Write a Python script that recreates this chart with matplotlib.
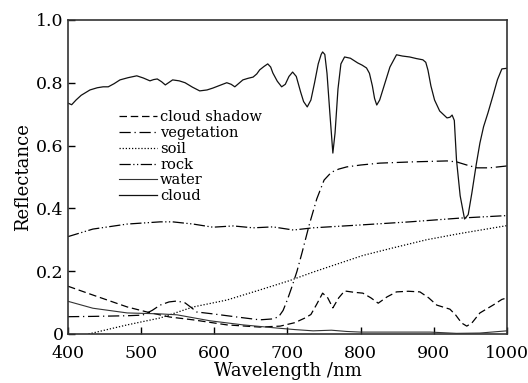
import matplotlib
matplotlib.use('Agg')
import matplotlib.pyplot as plt

# cloud (upper solid curve)
cloud_wl = [400, 405, 411, 418, 430, 440, 448, 455, 463, 471, 482, 494, 503, 512, 517, 522, 528,
            533, 543, 552, 560, 570, 580, 590, 598, 608, 617, 623, 628, 633, 639, 646, 653,
            658, 662, 668, 673, 677, 680, 686, 692, 697, 702, 707, 712, 718, 722, 727, 732,
            737, 742, 746, 748, 751, 754, 758, 762, 765, 769, 773, 778, 786, 796, 802, 808,
            812, 816, 819, 822, 826, 832, 840, 849, 857, 867, 876, 885, 889, 892, 896, 901,
            908, 918, 922, 925, 928, 931, 936, 942, 947, 952, 958, 963, 968, 974, 981,
            987, 993, 1000]
cloud_val = [0.735, 0.73, 0.745, 0.76, 0.777, 0.784, 0.787, 0.787, 0.797, 0.809, 0.816, 0.822, 0.815, 0.806, 0.81, 0.812, 0.803,
             0.793, 0.809, 0.806, 0.80, 0.786, 0.774, 0.777, 0.783, 0.792, 0.80, 0.795, 0.787, 0.797, 0.809, 0.814, 0.818,
             0.828, 0.841, 0.852, 0.86, 0.85, 0.831, 0.805, 0.787, 0.795, 0.82, 0.834, 0.82, 0.77, 0.74, 0.723, 0.745,
             0.80, 0.86, 0.89, 0.898, 0.89, 0.83, 0.70, 0.576, 0.64, 0.78, 0.86, 0.882, 0.878, 0.863, 0.856, 0.847,
             0.83, 0.79, 0.75, 0.729, 0.745, 0.79, 0.85, 0.889, 0.885, 0.882, 0.877, 0.873, 0.865, 0.84, 0.79, 0.745,
             0.71, 0.688, 0.69, 0.697, 0.68, 0.554, 0.44, 0.366, 0.38, 0.449, 0.54, 0.608, 0.66, 0.704, 0.76,
             0.81, 0.844, 0.846]

# cloud shadow (dashed)
shadow_wl = [400, 434, 481, 508, 539, 571, 617, 662, 690, 710, 724, 732, 740, 748, 755, 762, 770, 778,
             790, 803, 814, 824, 836, 849, 865, 881, 893, 904, 915, 922, 930, 938, 945, 952, 963, 981, 993, 1000]
shadow_val = [0.152, 0.124, 0.086, 0.07, 0.054, 0.045, 0.029, 0.022, 0.025, 0.036, 0.051, 0.062, 0.095, 0.13, 0.115, 0.083, 0.115, 0.137,
              0.133, 0.13, 0.115, 0.098, 0.118, 0.134, 0.136, 0.134, 0.115, 0.092, 0.084, 0.079, 0.06, 0.035, 0.025, 0.035, 0.067, 0.092, 0.11, 0.115]

# vegetation (long dash - short dash)
veg_wl = [400, 434, 480, 502, 515, 526, 538, 549, 560, 568, 576, 598, 631, 662, 680, 688, 694, 700, 706,
          713, 720, 730, 740, 750, 760, 770, 781, 800, 826, 871, 918, 931, 945, 959, 976, 1000]
veg_val = [0.055, 0.056, 0.058, 0.06, 0.075, 0.092, 0.102, 0.105, 0.099, 0.085, 0.07, 0.064, 0.054, 0.045, 0.048, 0.055, 0.075, 0.11, 0.15,
           0.2, 0.26, 0.35, 0.43, 0.49, 0.515, 0.525, 0.532, 0.538, 0.544, 0.548, 0.551, 0.548, 0.538, 0.529, 0.529, 0.535]

# soil (dotted)
soil_wl = [428, 481, 526, 571, 617, 662, 703, 735, 803, 844, 890, 936, 1000]
soil_val = [0.0, 0.029, 0.051, 0.086, 0.108, 0.14, 0.17, 0.197, 0.25, 0.274, 0.30, 0.32, 0.345]

# rock (dash dot dot)
rock_wl = [400, 434, 481, 526, 543, 571, 598, 626, 653, 680, 708, 735, 799, 867, 936, 1000]
rock_val = [0.31, 0.334, 0.35, 0.357, 0.357, 0.35, 0.34, 0.344, 0.338, 0.341, 0.331, 0.338, 0.347, 0.357, 0.369, 0.377]

# water (lower solid curve)
water_wl = [400, 434, 481, 526, 549, 594, 639, 685, 710, 735, 760, 781, 800, 850, 895, 931, 963, 1000]
water_val = [0.104, 0.082, 0.067, 0.064, 0.061, 0.042, 0.029, 0.019, 0.014, 0.01, 0.012, 0.008, 0.006, 0.006, 0.006, 0.002, 0.003, 0.01]

plt.rcParams['font.family'] = ['DejaVu Serif']

fig = plt.figure(figsize=(5.28, 3.83), dpi=100)
ax = fig.add_axes([0.1288, 0.128, 0.8314, 0.82])

ax.plot(shadow_wl, shadow_val, color='black', lw=0.9, dashes=(6, 3), label='cloud shadow')
ax.plot(veg_wl, veg_val, color='black', lw=0.9, dashes=(9, 3, 1, 3), label='vegetation')
ax.plot(soil_wl, soil_val, color='black', lw=0.9, dashes=(1, 1.5), label='soil')
ax.plot(rock_wl, rock_val, color='black', lw=0.9, dashes=(9, 2, 1, 2, 1, 2), label='rock')
ax.plot(water_wl, water_val, color='#333333', lw=0.8, label='water')
ax.plot(cloud_wl, cloud_val, color='#111111', lw=0.9, label='cloud')

ax.set_xlim(400, 1000)
ax.set_ylim(0, 1.0)
ax.set_xticks([400, 500, 600, 700, 800, 900, 1000])
ax.set_yticks([0, 0.2, 0.4, 0.6, 0.8, 1.0])
ax.set_yticklabels(['0', '0.2', '0.4', '0.6', '0.8', '1.0'])
ax.tick_params(direction='in', labelsize=12.5, length=5, width=1)
ax.tick_params(axis='x', pad=8)
ax.tick_params(axis='y', pad=3)
ax.set_xlabel('Wavelength /nm', fontsize=13, labelpad=0)
ax.set_ylabel('Reflectance', fontsize=13, labelpad=3)
for s in ax.spines.values():
    s.set_linewidth(1.2)
    s.set_color('#333333')

ax.legend(loc='upper left', bbox_to_anchor=(0.1, 0.735), frameon=False, fontsize=10.5,
          handlelength=2.6, handletextpad=0.2, labelspacing=0.12, borderpad=0)

fig.savefig('out.png', dpi=100)
